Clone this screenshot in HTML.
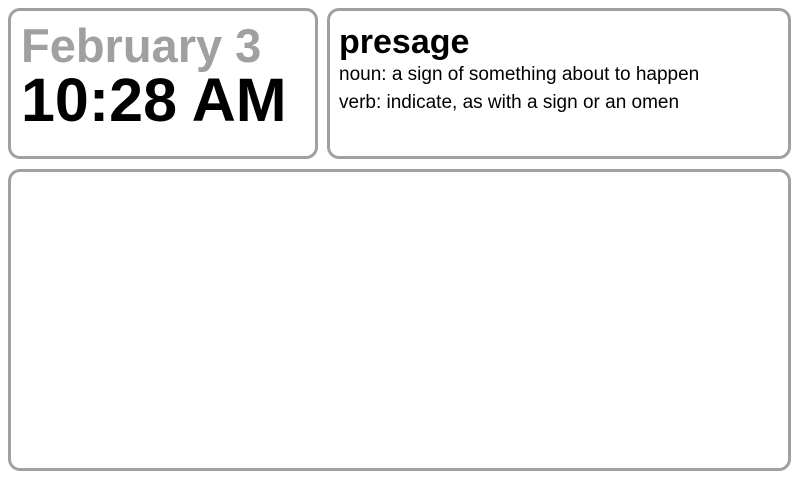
<!DOCTYPE html>
<html><head><style>
body{margin:0;width:800px;height:480px;background:#fff;position:relative;overflow:hidden;font-family:"Liberation Sans",sans-serif}
.b{position:absolute;border:3px solid #a0a0a0;border-radius:12px;box-sizing:border-box}
.t{position:absolute;white-space:nowrap;line-height:1}
</style></head><body>
<div class="b" style="left:8px;top:8px;width:310px;height:151px"></div>
<div class="b" style="left:327px;top:8px;width:464px;height:151px"></div>
<div class="b" style="left:8px;top:169px;width:783px;height:302px"></div>
<div class="t" style="left:21px;top:22px;font-size:47px;font-weight:bold;color:#a0a0a0">February 3</div>
<div class="t" style="left:21px;top:70px;font-size:61px;font-weight:bold;color:#000">10:28 AM</div>
<div class="t" style="left:339px;top:25px;font-size:34px;font-weight:bold;color:#000">presage</div>
<div class="t" style="left:339px;top:65px;font-size:19px;color:#000">noun: a sign of something about to happen</div>
<div class="t" style="left:339px;top:93px;font-size:19px;color:#000">verb: indicate, as with a sign or an omen</div>
</body></html>
